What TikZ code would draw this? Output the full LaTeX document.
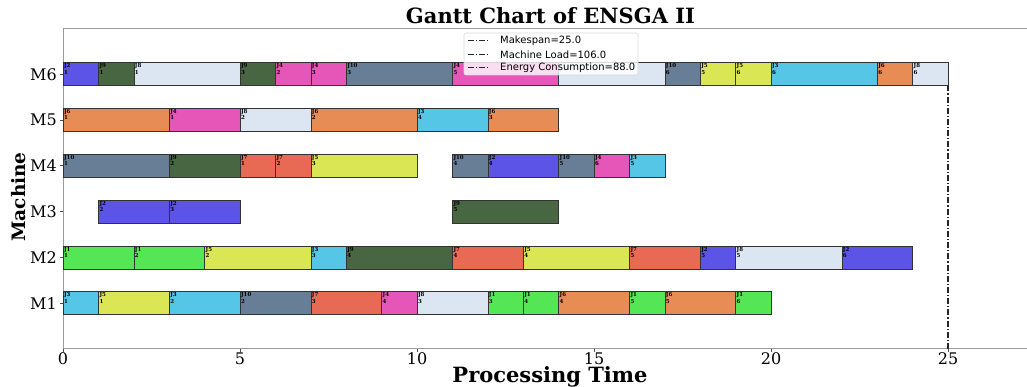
\documentclass[tikz,border=0pt]{standalone}
\usepackage{fontspec}
\setmainfont{DejaVu Serif}
\newfontfamily\legendfont{DejaVu Sans}
% one colour per job
\definecolor{cJ1}{HTML}{55E655}
\definecolor{cJ2}{HTML}{5C54E6}
\definecolor{cJ3}{HTML}{55C6E6}
\definecolor{cJ4}{HTML}{E655B8}
\definecolor{cJ5}{HTML}{DBE655}
\definecolor{cJ6}{HTML}{E88C55}
\definecolor{cJ7}{HTML}{E86A55}
\definecolor{cJ8}{HTML}{DCE6F2}
\definecolor{cJ9}{HTML}{486642}
\definecolor{cJ10}{HTML}{687E96}
\definecolor{spinegray}{HTML}{9A9A9A}
\begin{document}
\begin{tikzpicture}[x=1pt,y=1pt,
  spine/.style={draw=spinegray,line width=1pt},
  tickmark/.style={draw=black!70,line width=0.8pt},
  opbar/.style={draw=black!80,line width=0.6pt},
  oplabel/.style={anchor=north west,inner sep=0.9pt,align=left,
    font=\fontsize{5.5}{5}\selectfont\bfseries},
  ticklabel/.style={inner sep=0pt,font=\fontsize{16}{16}\selectfont},
  axislabel/.style={inner sep=0pt,font=\fontsize{21}{21}\selectfont\bfseries},
  dashdotline/.style={line width=1.3pt,black!85,
    dash pattern=on 6pt off 2pt on 1.2pt off 2pt},
  legendbox/.style={draw=black!15,fill=white,fill opacity=0.8,
    rounded corners=2pt,line width=0.6pt},
  legendtext/.style={anchor=west,inner sep=0pt,
    font=\legendfont\fontsize{10}{10}\selectfont}]
\useasboundingbox (0,0) rectangle (1027,387);

% title
\node[axislabel,anchor=base] (title) at (550.5,363) {Gantt Chart of ENSGA II};

\begin{scope}[shift={(63pt,38pt)},x=35.4pt,y=45.8pt]
  % axes
  \draw[spine] (0,7) -- (0,0) -- (27.3,0);
  \draw[spine] (0,7) -- (27.3,7);
  % x ticks
  \foreach \t in {0,5,...,25} {
    \draw[tickmark] (\t,0) -- ++(0,-3.5pt);
    \node[ticklabel,anchor=north] (xt\t) at ([yshift=-3.5pt]\t,0) {\t};
  }
  % y ticks
  \foreach \m in {1,...,6} {
    \draw[tickmark] (0,\m) -- ++(-3.5pt,0);
    \node[ticklabel,anchor=east] (yt\m) at ([xshift=-6pt]0,\m) {M\m};
  }
  % makespan marker
  \draw[dashdotline] (25,0) -- (25,6);
  % operations: machine/start/end/job/operation
  \foreach \r/\s/\e/\j/\o in {
    6/0/1/2/1, 6/1/2/9/1, 6/2/5/8/1, 6/5/6/9/3, 6/6/7/4/2, 6/7/8/4/3,
    6/8/11/10/3, 6/11/14/4/5, 6/17/18/10/6, 6/18/19/5/5,
    6/19/20/5/6, 6/20/23/3/6, 6/23/24/6/6, 6/24/25/8/6,
    5/0/3/6/1, 5/3/5/4/1, 5/5/7/8/2, 5/7/10/6/2, 5/10/12/3/4, 5/12/14/6/3,
    4/0/3/10/1, 4/3/5/9/2, 4/5/6/7/1, 4/6/7/7/2, 4/7/10/5/3,
    4/11/12/10/4, 4/12/14/2/4, 4/14/15/10/5, 4/15/16/4/6, 4/16/17/3/5,
    3/1/3/2/2, 3/3/5/2/3, 3/11/14/9/5,
    2/0/2/1/1, 2/2/4/1/2, 2/4/7/5/2, 2/7/8/3/3, 2/8/11/9/4, 2/11/13/7/4,
    2/13/16/5/4, 2/16/18/7/5, 2/18/19/2/5, 2/19/22/8/5, 2/22/24/2/6,
    1/0/1/3/1, 1/1/3/5/1, 1/3/5/3/2, 1/5/7/10/2, 1/7/9/7/3, 1/9/10/4/4,
    1/10/12/8/3, 1/12/13/1/3, 1/13/14/1/4, 1/14/16/6/4, 1/16/17/1/5,
    1/17/19/6/5, 1/19/20/1/6} {
    \draw[opbar,fill=cJ\j] (\s,\r-0.25) rectangle (\e,\r+0.25);
    \node[oplabel] (op-\r-\s) at (\s,\r+0.25) {J\j\\\o};
  }
  % the bar lying under the legend (its label is covered)
  \draw[opbar,fill=cJ8] (14,5.75) rectangle (17,6.25);
\end{scope}

% axis titles
\node[axislabel,anchor=base] (xlab) at (550,4) {Processing Time};
\node[axislabel,anchor=base,rotate=90,font=\fontsize{18.5}{18.5}\selectfont\bfseries] (ylab) at (25,190) {Machine};

% legend
\path[legendbox] (464,312) rectangle (638,354);
\foreach \y/\txt [count=\i] in {346/Makespan=25.0,332.5/Machine Load=106.0,319/Energy Consumption=88.0} {
  \coordinate (lg\i a) at (468,\y);
  \coordinate (lg\i b) at (488,\y);
  \draw[dashdotline,line width=1pt] (lg\i a) -- (lg\i b);
  \node[legendtext] (lg\i) at (500,\y) {\txt};
}
\end{tikzpicture}
\end{document}
